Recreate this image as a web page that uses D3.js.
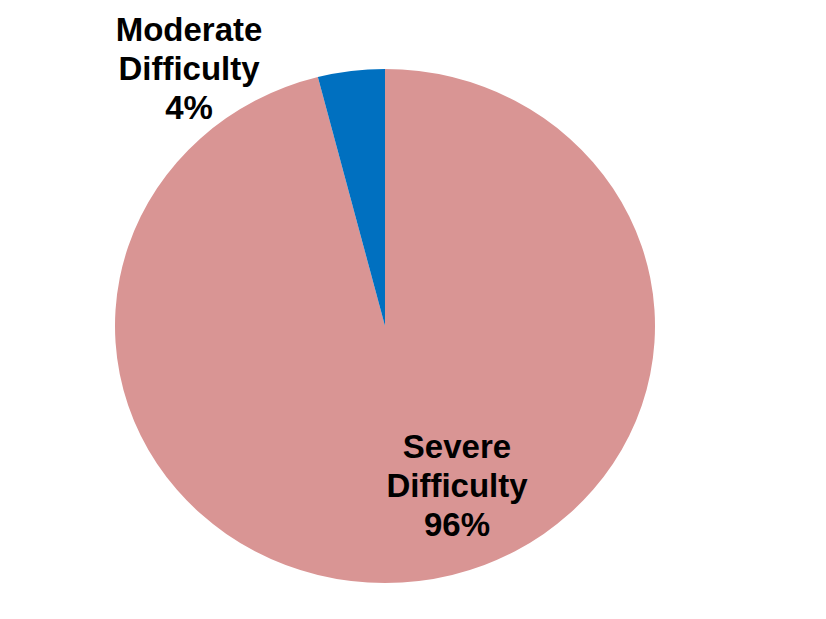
<!DOCTYPE html>
<html>
<head>
<meta charset="utf-8">
<script src="https://cdn.jsdelivr.net/npm/d3@7"></script>
<style>
  html, body { margin: 0; padding: 0; background: #ffffff; }
  svg { display: block; }
  .lbl { font-family: "Liberation Sans", Arial, sans-serif; font-weight: bold; font-size: 33px; fill: #000; }
</style>
</head>
<body>
<svg id="chart" width="826" height="619"></svg>
<script>
// Share of respondents by difficulty level
const categories = ["Severe Difficulty", "Moderate Difficulty"];
const values = [96, 4];
const colors = ["#D99594", "#0070C0"];

const width = 826, height = 619;
const cx = 385, cy = 326;
const rx = 270, ry = 257;

const svg = d3.select("#chart");

const pie = d3.pie().sort(null).value(d => d.value);
const arcs = pie(categories.map((c, i) => ({ name: c, value: values[i], color: colors[i] })));
const arc = d3.arc().innerRadius(0).outerRadius(rx);

// Slightly flattened pie
const g = svg.append("g")
  .attr("transform", `translate(${cx},${cy}) scale(1,${ry / rx})`);

g.selectAll("path")
  .data(arcs)
  .join("path")
  .attr("d", arc)
  .attr("fill", d => d.data.color);

// Data labels: category split over two lines plus the percentage
const labelPos = {
  "Severe Difficulty": { x: 457, y: 458 },
  "Moderate Difficulty": { x: 189, y: 41 }
};
const lineH = 39;

arcs.forEach(a => {
  const p = labelPos[a.data.name];
  const words = a.data.name.split(" ");
  const lines = [...words, a.data.value + "%"];
  const t = svg.append("text")
    .attr("class", "lbl")
    .attr("text-anchor", "middle")
    .attr("x", p.x)
    .attr("y", p.y);
  lines.forEach((ln, i) => {
    t.append("tspan")
      .attr("x", p.x)
      .attr("dy", i === 0 ? 0 : lineH)
      .text(ln);
  });
});
</script>
</body>
</html>
